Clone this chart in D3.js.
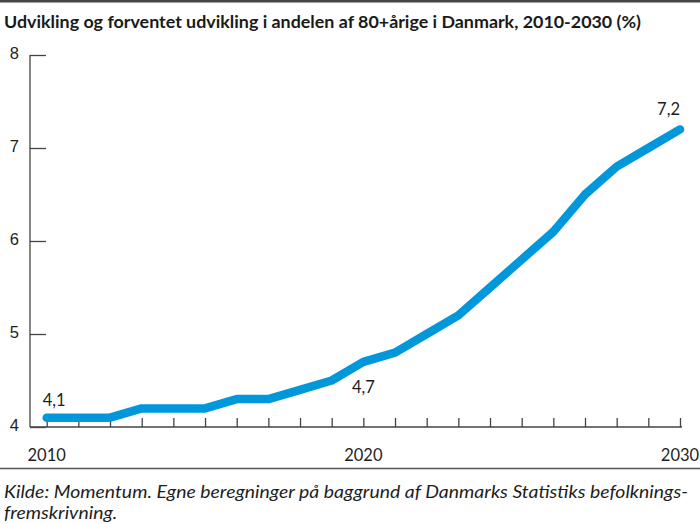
<!DOCTYPE html>
<html>
<head>
<meta charset="utf-8">
<script src="https://cdn.jsdelivr.net/npm/d3@7"></script>
<style>
    body { margin: 0; background: #fff; }
    svg { display: block; font-family: Lato, 'Open Sans', sans-serif; }
    .title { font-weight: 700; font-size: 17.8px; fill: #1a1a1a; }
    .tick text { font-size: 16.5px; fill: #1e1e1e; }
    .label { font-size: 16.5px; fill: #1e1e1e; }
    .source { font-style: italic; font-size: 17px; fill: #1e1e1e; }
</style>
</head>
<body>
<div id="container"></div>
<script>
'use strict';

//Data
const years = d3.range(2010, 2031);
const shares = [4.1, 4.1, 4.1, 4.2, 4.2, 4.2, 4.3, 4.3, 4.4, 4.5, 4.7,
    4.8, 5.0, 5.2, 5.5, 5.8, 6.1, 6.5, 6.8, 7.0, 7.2];
const yTicks = [4, 5, 6, 7, 8];
const xLabels = [2010, 2020, 2030];
const marked = [
    { year: 2010, value: 4.1, dx: -4, dy: -12, anchor: 'start' },
    { year: 2020, value: 4.7, dx: 0, dy: 31, anchor: 'middle' },
    { year: 2030, value: 7.2, dx: 0, dy: -14, anchor: 'end' },
];
const titleText = 'Udvikling og forventet udvikling i andelen af 80+årige i Danmark, 2010-2030 (%)';
const sourceLines = [
    'Kilde: Momentum. Egne beregninger på baggrund af Danmarks Statistiks befolknings-',
    'fremskrivning.',
];

//Sizing
const VIZ = {
    WIDTH: 700,
    HEIGHT: 524,
    AXIS_X: 30,
    LEFT: 46.7,
    RIGHT: 680,
    TOP: 55,
    BOTTOM: 427,
    TITLE_W: 637,
    SOURCE_W: 684,
};

const svg = d3.select('#container')
    .append('svg')
    .attr('width', VIZ.WIDTH)
    .attr('height', VIZ.HEIGHT);

const x = d3.scaleLinear().domain([2010, 2030]).range([VIZ.LEFT, VIZ.RIGHT]);
const y = d3.scaleLinear().domain([4, 8]).range([VIZ.BOTTOM, VIZ.TOP]);

//Frame lines
svg.append('rect').attr('x', 0).attr('y', 0).attr('width', VIZ.WIDTH).attr('height', 2.5).attr('fill', '#444');
svg.append('line').attr('x1', 0).attr('x2', VIZ.WIDTH).attr('y1', 468.5).attr('y2', 468.5)
    .attr('stroke', '#555').attr('stroke-width', 1.3);

//Title
svg.append('text').attr('class', 'title').attr('x', 4).attr('y', 28)
    .attr('textLength', VIZ.TITLE_W).attr('lengthAdjust', 'spacingAndGlyphs')
    .text(titleText);

//Y axis
const yAxis = svg.append('g')
    .attr('transform', `translate(${VIZ.AXIS_X},0)`)
    .call(d3.axisRight(y).tickValues(yTicks).tickSize(16).tickFormat(d3.format('d')));
yAxis.select('.domain').remove();
yAxis.selectAll('.tick line').attr('stroke', '#444').attr('stroke-width', 1.3);
yAxis.selectAll('.tick text').attr('x', -11).attr('text-anchor', 'end').attr('dy', '0.2em');
svg.append('line')
    .attr('x1', VIZ.AXIS_X).attr('x2', VIZ.AXIS_X)
    .attr('y1', y(8)).attr('y2', y(4))
    .attr('stroke', '#444').attr('stroke-width', 1.3);

//X axis
const xAxis = svg.append('g')
    .attr('transform', `translate(0,${VIZ.BOTTOM})`)
    .call(d3.axisTop(x).tickValues(years).tickSize(9).tickFormat(''));
xAxis.select('.domain').remove();
xAxis.selectAll('.tick line').attr('stroke', '#444').attr('stroke-width', 1.3);
svg.append('line')
    .attr('x1', VIZ.AXIS_X).attr('x2', VIZ.RIGHT + 2)
    .attr('y1', VIZ.BOTTOM).attr('y2', VIZ.BOTTOM)
    .attr('stroke', '#444').attr('stroke-width', 1.3);
svg.selectAll('.xlabel')
    .data(xLabels)
    .enter().append('text')
    .attr('class', 'label')
    .attr('x', d => x(d))
    .attr('y', 461)
    .attr('text-anchor', 'middle')
    .text(d => d);

//Line
const line = d3.line()
    .x((d, i) => x(years[i]))
    .y(d => y(d));
svg.append('path')
    .datum(shares)
    .attr('d', line)
    .attr('fill', 'none')
    .attr('stroke', '#0098db')
    .attr('stroke-width', 8.5)
    .attr('stroke-linecap', 'round')
    .attr('stroke-linejoin', 'round');

//Value labels
const fmt = v => d3.format('.1f')(v).replace('.', ',');
svg.selectAll('.value')
    .data(marked)
    .enter().append('text')
    .attr('class', 'label')
    .attr('x', d => x(d.year) + d.dx)
    .attr('y', d => y(d.value) + d.dy)
    .attr('text-anchor', d => d.anchor)
    .text(d => fmt(d.value));

//Source, stretched to the width of the original
const source = svg.selectAll('.source')
    .data(sourceLines)
    .enter().append('text')
    .attr('class', 'source')
    .attr('x', 4)
    .attr('y', (d, i) => 497.5 + i * 21.5)
    .text(d => d);
const stretch = VIZ.SOURCE_W / source.node().getComputedTextLength();
source.each(function () {
    const len = this.getComputedTextLength();
    d3.select(this).attr('textLength', len * stretch).attr('lengthAdjust', 'spacingAndGlyphs');
});
</script>
</body>
</html>
